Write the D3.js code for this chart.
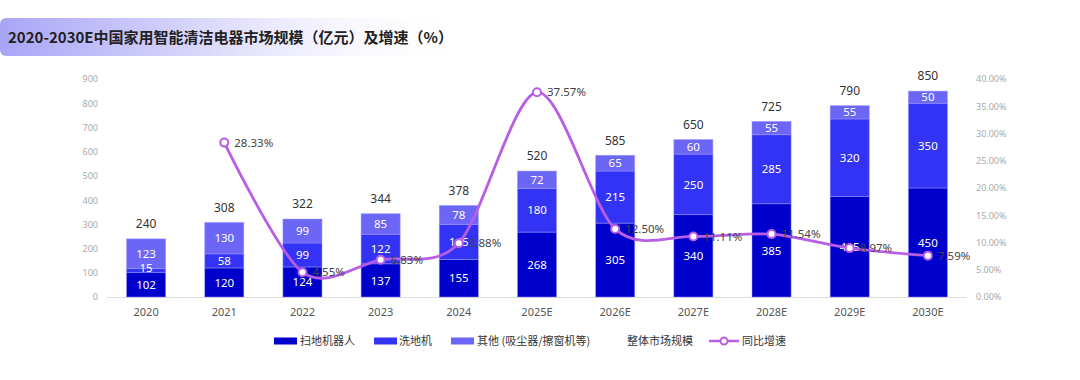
<!DOCTYPE html>
<html><head><meta charset="utf-8">
<script src="https://cdn.jsdelivr.net/npm/d3@7"></script>
<style>
body{margin:0;background:#fff;}
svg{display:block;font-family:"Noto Sans CJK SC","Noto Sans",sans-serif;}
</style></head><body>
<svg id="c" width="1080" height="380"></svg>
<script>
const categories = ["2020","2021","2022","2023","2024","2025E","2026E","2027E","2028E","2029E","2030E"];
const robot = [102,120,124,137,155,268,305,340,385,415,450];
const washer = [15,58,99,122,145,180,215,250,285,320,350];
const others = [123,130,99,85,78,72,65,60,55,55,50];
const totals = [240,308,322,344,378,520,585,650,725,790,850];
const growth = [null,28.33,4.55,6.83,9.88,37.57,12.50,11.11,11.54,8.97,7.59];
const leftTicks = [0,100,200,300,400,500,600,700,800,900];
const rightTicks = [0,5,10,15,20,25,30,35,40];
const seriesNames = ["扫地机器人","洗地机","其他 (吸尘器/擦窗机等)"];
const totalName = "整体市场规模";
const growthName = "同比增速";
const title = "2020-2030E中国家用智能清洁电器市场规模（亿元）及增速（%）";

const colors = ["#0000CC","#3333F5","#6C66F7"];
const lineColor = "#B85DE6";

const svg = d3.select("#c");
// title background
const defs = svg.append("defs");
const g1 = defs.append("linearGradient").attr("id","tg").attr("x1","0").attr("x2","1");
g1.append("stop").attr("offset","0").attr("stop-color","#A9A5F6");
g1.append("stop").attr("offset","0.45").attr("stop-color","#DCDAFB");
g1.append("stop").attr("offset","1").attr("stop-color","#ffffff").attr("stop-opacity",0);
svg.append("rect").attr("x",0).attr("y",18).attr("width",470).attr("height",38).attr("rx",6).attr("fill","url(#tg)");
svg.append("text").attr("x",8).attr("y",43).attr("font-size",15).attr("font-weight",700)
  .attr("fill","#222").text(title);

const x = d3.scaleBand().domain(categories).range([107,967]).paddingInner(0.5).paddingOuter(0.25);
const yL = d3.scaleLinear().domain([0,900]).range([297,79]);
const yR = d3.scaleLinear().domain([0,40]).range([297,79]);

// axes
const axL = svg.append("g").attr("transform","translate(98,0)")
  .call(d3.axisLeft(yL).tickValues(leftTicks).tickSize(0).tickPadding(0));
axL.select(".domain").remove();
axL.selectAll("text").attr("fill","#aaa").attr("font-size",9).attr("font-family","Noto Sans, sans-serif");

const axR = svg.append("g").attr("transform","translate(976,0)")
  .call(d3.axisRight(yR).tickValues(rightTicks).tickSize(0).tickPadding(0).tickFormat(d=>d.toFixed(2)+"%"));
axR.select(".domain").remove();
axR.selectAll("text").attr("fill","#aaa").attr("font-size",9).attr("font-family","Noto Sans, sans-serif");

const axB = svg.append("g").attr("transform","translate(0,297)")
  .call(d3.axisBottom(x).tickSize(0).tickPadding(11));
axB.select(".domain").attr("stroke","#ddd").attr("d","M107,0.5H967");
axB.selectAll("text").attr("fill","#555").attr("font-size",11).attr("font-family","Noto Sans, sans-serif");

// stacked bars
const rows = categories.map((c,i)=>({cat:c, robot:robot[i], washer:washer[i], others:others[i]}));
const stack = d3.stack().keys(["robot","washer","others"])(rows);
const bars = svg.append("g");
stack.forEach((layer,li)=>{
  bars.selectAll(null).data(layer).enter().append("rect")
    .attr("x",d=>x(d.data.cat)).attr("width",x.bandwidth())
    .attr("y",d=>yL(d[1])).attr("height",d=>yL(d[0])-yL(d[1]))
    .attr("fill",colors[li]).attr("stroke","#9c98ff").attr("stroke-width",0.8).attr("stroke-opacity",0.6);
});
stack.forEach((layer,li)=>{
  bars.selectAll(null).data(layer).enter().append("text")
    .attr("x",d=>x(d.data.cat)+x.bandwidth()/2)
    .attr("y",d=>{
      const c=(yL(d[0])+yL(d[1]))/2, h=yL(d[0])-yL(d[1]);
      // tiny segment: nudge label so it does not collide with its neighbour below
      return h<10 ? c-3 : c;
    })
    .attr("dy","0.36em").attr("text-anchor","middle").attr("fill","#fff").attr("font-size",11.5)
    .attr("font-family","Noto Sans, sans-serif")
    .text(d=>d[1]-d[0]);
});
// totals
svg.append("g").selectAll("text").data(categories).enter().append("text")
  .attr("x",d=>x(d)+x.bandwidth()/2).attr("y",(d,i)=>yL(totals[i])-15)
  .attr("dy","0.36em").attr("text-anchor","middle").attr("fill","#333").attr("font-size",12)
  .attr("font-family","Noto Sans, sans-serif").text((d,i)=>totals[i]);

// growth line
const pts = categories.map((c,i)=>({cat:c,v:growth[i]})).filter(d=>d.v!==null);
const line = d3.line().x(d=>x(d.cat)+x.bandwidth()/2).y(d=>yR(d.v)).curve(d3.curveCardinal.tension(0.1));
svg.append("path").datum(pts).attr("d",line).attr("fill","none").attr("stroke",lineColor).attr("stroke-width",2.8);
svg.append("g").selectAll("circle").data(pts).enter().append("circle")
  .attr("cx",d=>x(d.cat)+x.bandwidth()/2).attr("cy",d=>yR(d.v)).attr("r",4)
  .attr("fill","#fff").attr("stroke",lineColor).attr("stroke-width",2);
svg.append("g").selectAll("text").data(pts).enter().append("text")
  .attr("x",d=>x(d.cat)+x.bandwidth()/2+10).attr("y",d=>yR(d.v))
  .attr("dy","0.36em").attr("fill","#444").attr("font-size",11.5)
  .attr("font-family","Noto Sans, sans-serif").text(d=>d.v.toFixed(2)+"%");

// legend
const lg = svg.append("g").attr("font-size",11).attr("fill","#333");
const ly = 341;
const legItems = [
  {type:"rect",c:colors[0],rx:274,tx:300,t:seriesNames[0]},
  {type:"rect",c:colors[1],rx:374,tx:399,t:seriesNames[1]},
  {type:"rect",c:colors[2],rx:451,tx:477,t:seriesNames[2]},
  {type:"none",tx:627,t:totalName},
  {type:"line",rx:709,tx:742,t:growthName}
];
legItems.forEach(it=>{
  if(it.type==="rect") lg.append("rect").attr("x",it.rx).attr("y",ly-3.5).attr("width",23).attr("height",7).attr("fill",it.c);
  if(it.type==="line"){
    lg.append("line").attr("x1",it.rx).attr("x2",it.rx+30).attr("y1",ly).attr("y2",ly).attr("stroke",lineColor).attr("stroke-width",2.5);
    lg.append("circle").attr("cx",it.rx+15).attr("cy",ly).attr("r",3.5).attr("fill","#fff").attr("stroke",lineColor).attr("stroke-width",2);
  }
  lg.append("text").attr("x",it.tx).attr("y",ly).attr("dy","0.36em").attr("fill","#333").text(it.t);
});
</script>
</body></html>
